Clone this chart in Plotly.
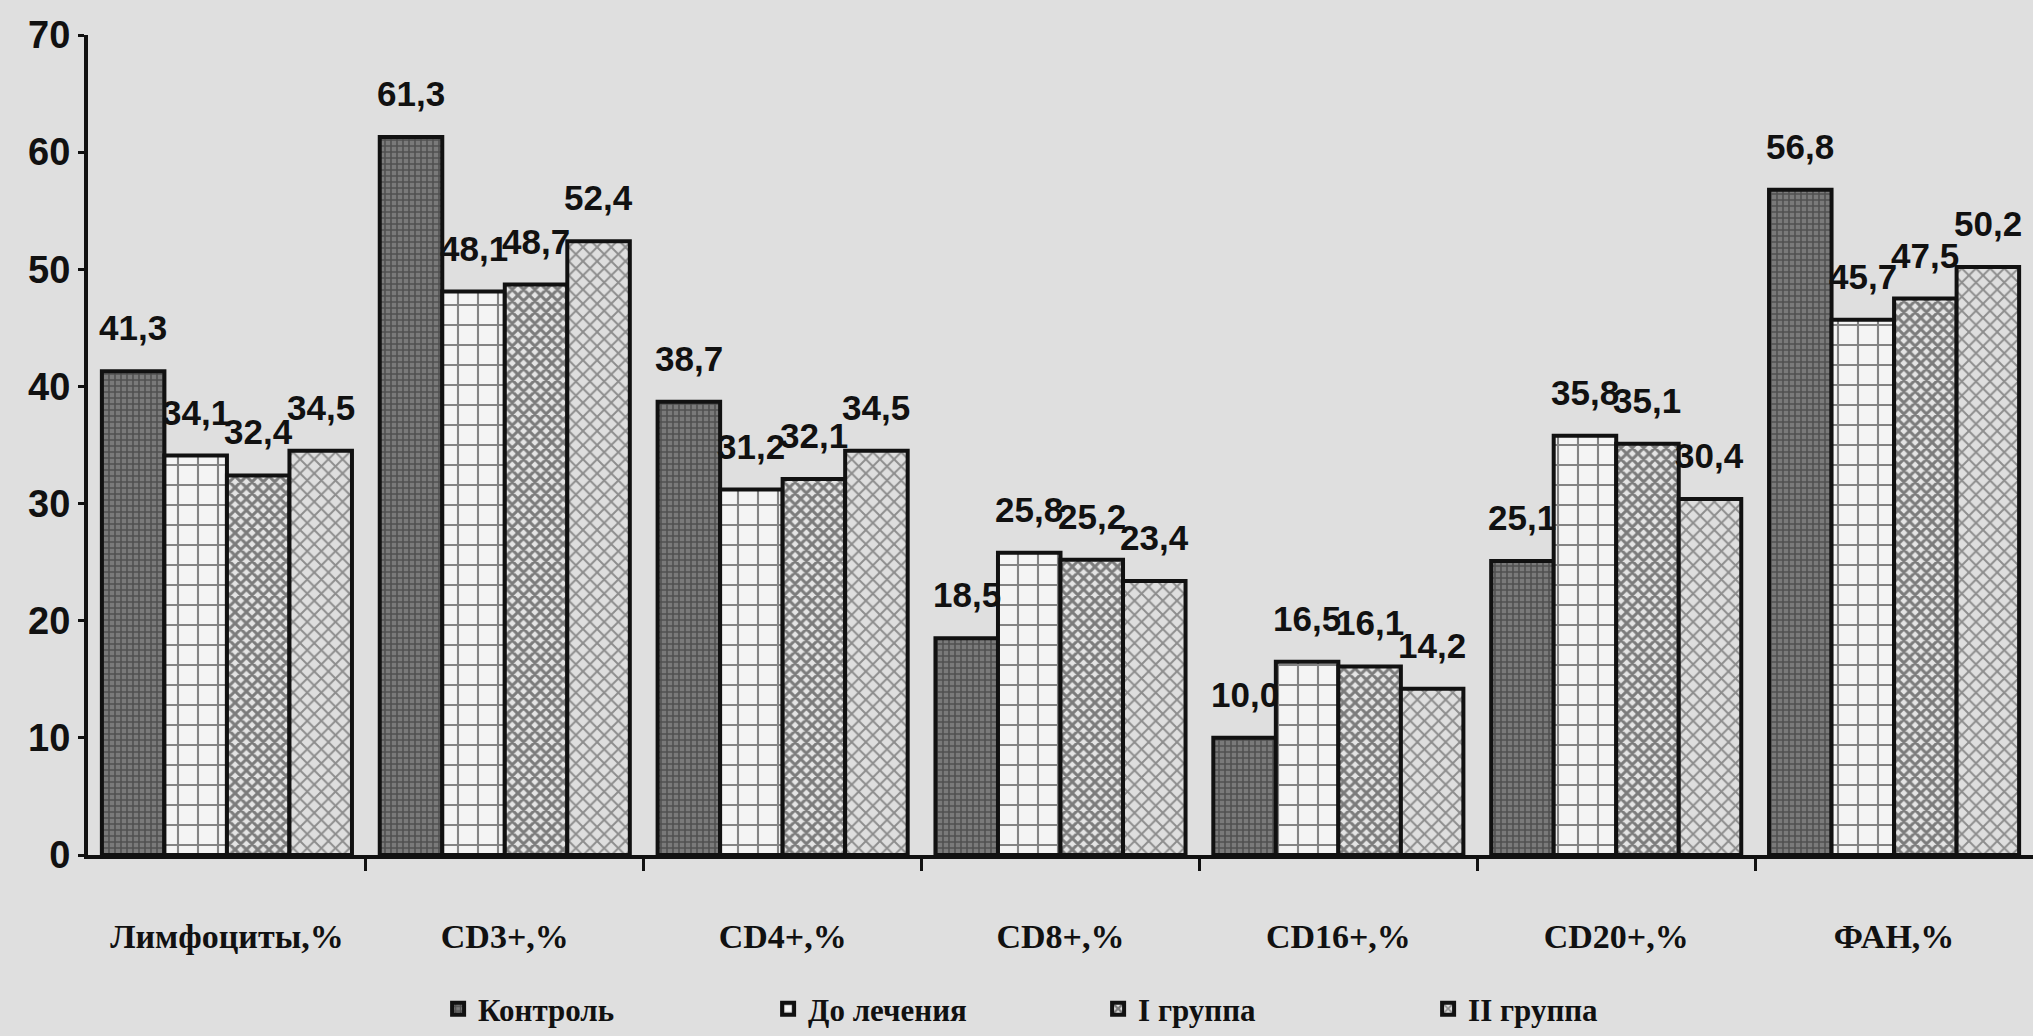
import plotly.graph_objects as go

# Immune status indicators, % (decimal comma in labels)
categories = ["Лимфоциты,%", "CD3+,%", "CD4+,%", "CD8+,%", "CD16+,%", "CD20+,%", "ФАН,%"]
series_names = ["Контроль", "До лечения", "I группа", "II группа"]

control = [41.3, 61.3, 38.7, 18.5, 10.0, 25.1, 56.8]
before_treatment = [34.1, 48.1, 31.2, 25.8, 16.5, 35.8, 45.7]
group_1 = [32.4, 48.7, 32.1, 25.2, 16.1, 35.1, 47.5]
group_2 = [34.5, 52.4, 34.5, 23.4, 14.2, 30.4, 50.2]

y_ticks = [0, 10, 20, 30, 40, 50, 60, 70]

series_values = [control, before_treatment, group_1, group_2]

# hatch styles for monochrome printing
patterns = [
    dict(shape="+", size=6, solidity=0.45, fgcolor="#262626", bgcolor="#7a7a7a"),
    dict(shape="+", size=20, solidity=0.2, fgcolor="#111111", bgcolor="#f4f4f4"),
    dict(shape="x", size=8, solidity=0.6, fgcolor="#141414", bgcolor="#e4e4e4"),
    dict(shape="x", size=10, solidity=0.35, fgcolor="#3c3c3c", bgcolor="#dedede"),
]

n_series = len(series_values)
group_span = 0.9
bar_w = group_span / n_series

fig = go.Figure()
annotations = []
label_font = dict(family="Liberation Sans Narrow, Liberation Sans, Arial", size=35,
                  color="#111111", weight=700)

for j, (name, vals, pat) in enumerate(zip(series_names, series_values, patterns)):
    offset = (j - (n_series - 1) / 2) * bar_w
    xs = [i + offset for i in range(len(categories))]
    fig.add_trace(go.Bar(
        name=name,
        x=xs,
        y=vals,
        width=bar_w,
        marker=dict(color=pat["bgcolor"], line=dict(color="#111111", width=4),
                    pattern=pat),
        cliponaxis=False,
    ))
    for x, v in zip(xs, vals):
        annotations.append(dict(
            x=x, y=v, xref="x", yref="y",
            text=f"{v:.1f}".replace(".", ","),
            showarrow=False, yanchor="bottom", yshift=22,
            font=label_font,
        ))

bg = "#dfdfdf"
fig.update_layout(
    width=2033, height=1036,
    margin=dict(l=88, r=0, t=35, b=179),
    paper_bgcolor=bg, plot_bgcolor=bg,
    barmode="overlay",
    showlegend=True,
    legend=dict(
        orientation="h", x=0.18, xanchor="left", y=-0.155, yanchor="top",
        entrywidth=285, entrywidthmode="pixels",
        font=dict(family="Liberation Serif, Times New Roman, serif", size=31,
                  color="#111111", weight=700),
        bgcolor="rgba(0,0,0,0)", itemwidth=30,
    ),
    annotations=annotations,
    xaxis=dict(
        range=[-0.5, 6.5],
        tickmode="array",
        tickvals=list(range(len(categories))),
        ticktext=categories,
        ticks="",
        ticklabelstandoff=48,
        tickfont=dict(family="Liberation Serif, Times New Roman, serif", size=34,
                      color="#111111", weight=700),
        showline=True, linecolor="#111111", linewidth=4,
        showgrid=False, zeroline=False,
        minor=dict(tickvals=[i + 0.5 for i in range(len(categories) - 1)],
                   ticks="outside", ticklen=12, tickwidth=3, tickcolor="#111111"),
    ),
    yaxis=dict(
        range=[0, 70],
        tickmode="array", tickvals=y_ticks,
        ticks="outside", ticklen=6, tickwidth=3, tickcolor="#111111",
        tickfont=dict(family="Liberation Sans Narrow, Liberation Sans, Arial", size=38,
                      color="#111111", weight=700),
        showline=True, linecolor="#111111", linewidth=4,
        showgrid=False, zeroline=False,
    ),
)

fig.write_html("out.html")
